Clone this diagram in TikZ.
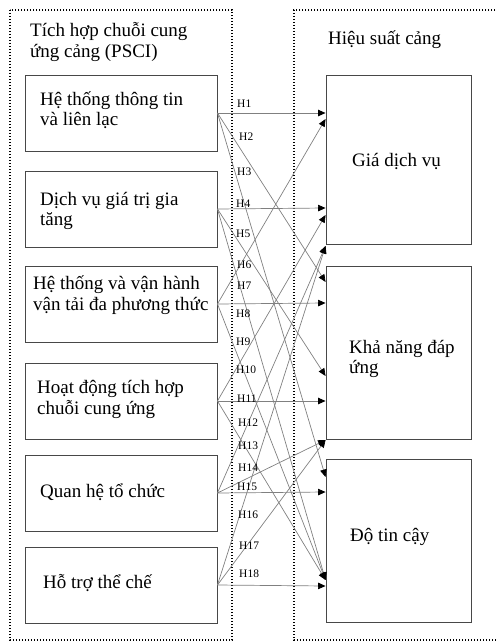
\documentclass[tikz,border=0pt]{standalone}
\usepackage{fontspec}
\setmainfont{Liberation Serif}
\usetikzlibrary{arrows.meta}
\begin{document}
\begin{tikzpicture}[x=1pt,y=-1pt,
  frame/.style={draw=black, line width=1.3pt, dash pattern=on 1.3pt off 1.7pt},
  lbox/.style={draw=black!72, line width=0.9pt, rectangle, minimum width=192pt, minimum height=76pt, inner sep=0pt},
  rbox/.style={draw=black!72, line width=0.9pt, rectangle, minimum width=145pt, inner sep=0pt},
  txt/.style={anchor=base west, inner sep=0pt, font=\fontsize{19}{21}\selectfont},
  hl/.style={anchor=base west, inner sep=0pt, font=\fontsize{11.5}{12}\selectfont},
  link/.style={draw=black!50, line width=0.7pt, -{Triangle[length=7.5pt,width=6.5pt,color=black]}}
]
\useasboundingbox (0,0) rectangle (495,642);

% frames
\draw[frame] (10,10) rectangle (232,640);
\draw[frame] (498,10) -- (294,10) -- (294,640) -- (498,640);

% titles
\node[txt] (t1a) at (30,37) {Tích hợp chuỗi cung};
\node[txt] (t1b) at (30,58) {ứng cảng (PSCI)};
\node[txt] (t2) at (328,45) {Hiệu suất cảng};

% left boxes
\node[lbox] (s1) at (121,113) {};
\node[lbox] (s2) at (121,209) {};
\node[lbox] (s3) at (121,304) {};
\node[lbox] (s4) at (121,401) {};
\node[lbox] (s5) at (121,493) {};
\node[lbox] (s6) at (121,585) {};

\node[txt] (s1a) at (40,105) {Hệ thống thông tin};
\node[txt] (s1b) at (40,125) {và liên lạc};
\node[txt] (s2a) at (40,205) {Dịch vụ giá trị gia};
\node[txt] (s2b) at (40,225) {tăng};
\node[txt] (s3a) at (33,289) {Hệ thống và vận hành};
\node[txt] (s3b) at (33,310) {vận tải đa phương thức};
\node[txt] (s4a) at (37,393) {Hoạt động tích hợp};
\node[txt] (s4b) at (37,414) {chuỗi cung ứng};
\node[txt] (s5a) at (40,497) {Quan hệ tổ chức};
\node[txt] (s6a) at (43,588) {Hỗ trợ thể chế};

% right boxes
\node[rbox, minimum height=169pt] (tA) at (398.5,159.5) {};
\node[rbox, minimum height=173pt] (tB) at (398.5,352.5) {};
\node[rbox, minimum height=163pt] (tC) at (398.5,540.5) {};

\node[txt] (tAa) at (352,166) {Giá dịch vụ};
\node[txt] (tBa) at (349,353) {Khả năng đáp};
\node[txt] (tBb) at (349,373) {ứng};
\node[txt] (tCa) at (350,541) {Độ tin cậy};

% connectors
\draw[link] (s1.east) -- (tA.west |- 0,113);
\draw[link] (s1.east) -- (tB.west |- 0,282);
\draw[link] (s1.east) -- (tC.west |- 0,477);
\draw[link] (s2.east) -- (tA.west |- 0,208);
\draw[link] (s2.east) -- (tB.west |- 0,376);
\draw[link] (s2.east) -- (tC.west |- 0,580);
\draw[link] (s3.east) -- (tA.west |- 0,119);
\draw[link] (s3.east) -- (tB.west |- 0,303);
\draw[link] (s3.east) -- (tC.west |- 0,580);
\draw[link] (s4.east) -- (tA.west |- 0,215);
\draw[link] (s4.east) -- (tB.west |- 0,401);
\draw[link] (s4.east) -- (tC.west |- 0,580);
\draw[link] (s5.east) -- (tA.west |- 0,246);
\draw[link] (s5.east) -- (tB.west |- 0,440);
\draw[link] (s5.east) -- (tC.west |- 0,492);
\draw[link] (s6.east) -- (tA.west |- 0,246);
\draw[link] (s6.east) -- (tB.west |- 0,440);
\draw[link] (s6.east) -- (tC.west |- 0,586);

% hypothesis labels
\node[hl] (h1) at (237,107) {H1};
\node[hl] (h2) at (239,140) {H2};
\node[hl] (h3) at (237,175) {H3};
\node[hl] (h4) at (236,207) {H4};
\node[hl] (h5) at (236,237) {H5};
\node[hl] (h6) at (237,268) {H6};
\node[hl] (h7) at (237,289) {H7};
\node[hl] (h8) at (236,317) {H8};
\node[hl] (h9) at (236,345) {H9};
\node[hl] (h10) at (236,373) {H10};
\node[hl] (h11) at (237,402) {H11};
\node[hl] (h12) at (238,426) {H12};
\node[hl] (h13) at (238,449) {H13};
\node[hl] (h14) at (238,471) {H14};
\node[hl] (h15) at (237,490) {H15};
\node[hl] (h16) at (238,518) {H16};
\node[hl] (h17) at (239,549) {H17};
\node[hl] (h18) at (239,577) {H18};
\end{tikzpicture}
\end{document}
